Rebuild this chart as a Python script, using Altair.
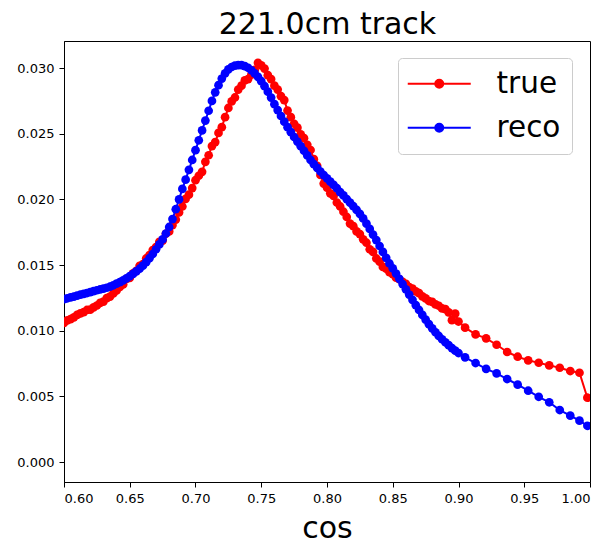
import altair as alt
import pandas as pd

# ---- data ----
x_dense = [
    0.6000, 0.6025, 0.6050, 0.6075, 0.6100, 0.6125, 0.6150, 0.6175, 0.6200, 0.6225,
    0.6250, 0.6275, 0.6300, 0.6325, 0.6350, 0.6375, 0.6400, 0.6425, 0.6450, 0.6475,
    0.6500, 0.6525, 0.6550, 0.6575, 0.6600, 0.6625, 0.6650, 0.6675, 0.6700, 0.6725,
    0.6750, 0.6775, 0.6800, 0.6825, 0.6850, 0.6875, 0.6900, 0.6925, 0.6950, 0.6975,
    0.7000, 0.7025, 0.7050, 0.7075, 0.7100, 0.7125, 0.7150, 0.7175, 0.7200, 0.7225,
    0.7250, 0.7275, 0.7300, 0.7325, 0.7350, 0.7375, 0.7400, 0.7425, 0.7450, 0.7475,
    0.7500, 0.7525, 0.7550, 0.7575, 0.7600, 0.7625, 0.7650, 0.7675, 0.7700, 0.7725,
    0.7750, 0.7775, 0.7800, 0.7825, 0.7850, 0.7875, 0.7900, 0.7925, 0.7950, 0.7975,
    0.8000, 0.8025, 0.8050, 0.8075, 0.8100, 0.8125, 0.8150, 0.8175, 0.8200, 0.8225,
    0.8250, 0.8275, 0.8300, 0.8325, 0.8350, 0.8375, 0.8400, 0.8425, 0.8450, 0.8475,
    0.8500, 0.8525, 0.8550, 0.8575, 0.8600, 0.8625, 0.8650, 0.8675, 0.8700, 0.8725,
    0.8750, 0.8775, 0.8800, 0.8825, 0.8850, 0.8875, 0.8900, 0.8925, 0.8950, 0.8975,
    0.9000,
]
x_sparse = [0.905, 0.913, 0.921, 0.929, 0.937, 0.945, 0.953, 0.961, 0.969, 0.977, 0.985, 0.992, 0.998]

y_true_dense = [
    0.01060, 0.01078, 0.01088, 0.01102, 0.01120, 0.01132, 0.01142, 0.01158, 0.01160, 0.01178,
    0.01192, 0.01212, 0.01222, 0.01248, 0.01260, 0.01284, 0.01306, 0.01334, 0.01352, 0.01394,
    0.01402, 0.01436, 0.01456, 0.01494, 0.01508, 0.01550, 0.01576, 0.01614, 0.01636, 0.01676,
    0.01686, 0.01738, 0.01756, 0.01804, 0.01846, 0.01900, 0.01946, 0.02004, 0.02036, 0.02086,
    0.02146, 0.02180, 0.02210, 0.02286, 0.02336, 0.02406, 0.02436, 0.02506, 0.02550, 0.02626,
    0.02696, 0.02746, 0.02776, 0.02836, 0.02866, 0.02906, 0.02916, 0.02950, 0.02986, 0.03040,
    0.03020, 0.02996, 0.02946, 0.02916, 0.02866, 0.02836, 0.02786, 0.02756, 0.02676, 0.02626,
    0.02576, 0.02546, 0.02496, 0.02466, 0.02416, 0.02376, 0.02306, 0.02256, 0.02186, 0.02120,
    0.02090, 0.02046, 0.02026, 0.01976, 0.01946, 0.01906, 0.01866, 0.01816, 0.01796, 0.01756,
    0.01736, 0.01696, 0.01670, 0.01620, 0.01600, 0.01550, 0.01526, 0.01486, 0.01472, 0.01446,
    0.01430, 0.01404, 0.01392, 0.01372, 0.01356, 0.01332, 0.01320, 0.01300, 0.01286, 0.01262,
    0.01246, 0.01226, 0.01220, 0.01200, 0.01190, 0.01170, 0.01164, 0.01140, 0.01080, 0.01130,
    0.01070,
]
y_true_sparse = [0.01023, 0.00972, 0.00942, 0.00893, 0.00838, 0.00802, 0.00774,
                 0.00756, 0.00736, 0.00718, 0.00693, 0.00680, 0.00490]

y_reco_dense = [
    0.01240, 0.01247, 0.01254, 0.01260, 0.01267, 0.01274, 0.01280, 0.01287, 0.01294, 0.01301,
    0.01308, 0.01314, 0.01320, 0.01327, 0.01335, 0.01346, 0.01358, 0.01370, 0.01383, 0.01398,
    0.01415, 0.01433, 0.01452, 0.01472, 0.01495, 0.01522, 0.01552, 0.01584, 0.01620, 0.01657,
    0.01695, 0.01740, 0.01790, 0.01850, 0.01925, 0.02000, 0.02080, 0.02150, 0.02225, 0.02300,
    0.02375, 0.02450, 0.02525, 0.02600, 0.02675, 0.02750, 0.02815, 0.02870, 0.02920, 0.02960,
    0.02990, 0.03008, 0.03018, 0.03022, 0.03022, 0.03015, 0.03002, 0.02983, 0.02960, 0.02933,
    0.02900, 0.02862, 0.02820, 0.02775, 0.02725, 0.02680, 0.02635, 0.02592, 0.02550, 0.02512,
    0.02475, 0.02440, 0.02405, 0.02370, 0.02335, 0.02300, 0.02268, 0.02240, 0.02212, 0.02185,
    0.02160, 0.02135, 0.02110, 0.02085, 0.02055, 0.02030, 0.02002, 0.01975, 0.01948, 0.01920,
    0.01890, 0.01855, 0.01815, 0.01775, 0.01732, 0.01690, 0.01645, 0.01600, 0.01555, 0.01512,
    0.01475, 0.01435, 0.01395, 0.01355, 0.01315, 0.01275, 0.01235, 0.01195, 0.01158, 0.01120,
    0.01085, 0.01050, 0.01018, 0.00988, 0.00960, 0.00935, 0.00912, 0.00890, 0.00868, 0.00848,
    0.00830,
]
y_reco_sparse = [0.00797, 0.00754, 0.00710, 0.00675, 0.00632, 0.00589, 0.00543,
                 0.00497, 0.00455, 0.00396, 0.00353, 0.00315, 0.00276]

chart_title = "221.0cm track"
x_title = "cos"
series_names = ["true", "reco"]
series_colors = ["#ff0000", "#0000ff"]
x_ticks = [0.60, 0.65, 0.70, 0.75, 0.80, 0.85, 0.90, 0.95, 1.00]
y_ticks = [0.000, 0.005, 0.010, 0.015, 0.020, 0.025, 0.030]

rows = []
for x, y in zip(x_dense + x_sparse, y_true_dense + y_true_sparse):
    rows.append({"cos": x, "val": y, "series": "true", "order": len(rows)})
for x, y in zip(x_dense + x_sparse, y_reco_dense + y_reco_sparse):
    rows.append({"cos": x, "val": y, "series": "reco", "order": len(rows)})
df = pd.DataFrame(rows)

legend_symbol = ("M-3,0H3M-0.38,0A0.38,0.38,0,1,1,0.38,0"
                 "A0.38,0.38,0,1,1,-0.38,0Z")

base = alt.Chart(df)
x_scale = alt.Scale(domain=[0.6, 1.0], nice=False, zero=False)

# bottom axis with ticks and the "cos" title
x_bottom = alt.X("cos:Q", scale=x_scale,
                 axis=alt.Axis(orient="bottom", values=x_ticks, format=".2f",
                               title=x_title, titleFontSize=30,
                               titleFont="DejaVu Sans", titleFontWeight="normal",
                               titlePadding=8))
# top axis carrying only the chart title text
x_top = alt.X("cos:Q", scale=x_scale,
              axis=alt.Axis(orient="top", title=chart_title, labels=False,
                            ticks=False, domain=False, titleFontSize=30,
                            titleFont="DejaVu Sans", titleFontWeight="normal",
                            titleBaseline="alphabetic", titlePadding=8))
y_enc = alt.Y("val:Q",
              scale=alt.Scale(domain=[-0.00152, 0.03206], nice=False, zero=False),
              axis=alt.Axis(values=y_ticks, format=".3f", title=None))
color_enc = alt.Color("series:N",
                      scale=alt.Scale(domain=series_names, range=series_colors),
                      sort=series_names,
                      legend=alt.Legend(title=None, orient="none",
                                        legendX=334, legendY=17,
                                        symbolType=legend_symbol,
                                        symbolSize=441, symbolStrokeWidth=2,
                                        symbolOffset=15.5, labelOffset=42.5,
                                        labelFontSize=29.5, labelFont="DejaVu Sans",
                                        labelColor="black", labelBaseline="middle",
                                        rowPadding=13, padding=11,
                                        strokeColor="#cccccc", cornerRadius=4,
                                        fillColor="rgba(255,255,255,0.8)"))

lines = base.mark_line(strokeWidth=2, clip=True).encode(
    x=x_top, y=y_enc, color=color_enc, order="order:Q")
points = base.mark_point(filled=True, size=76, opacity=1, clip=True).encode(
    x=x_bottom, y=y_enc, color=color_enc, order="order:Q")

chart = alt.layer(lines, points).resolve_axis(x="independent").properties(
    width=526, height=441,
    autosize=alt.AutoSizeParams(type="none"),
    padding={"left": 56, "top": 33, "right": 7, "bottom": 58},
).configure_axis(
    grid=False, domainColor="black", tickColor="black", labelColor="black",
    titleColor="black", labelFont="DejaVu Sans", labelFontSize=13,
    tickSize=5, labelPadding=5, domainWidth=1, tickWidth=1,
).configure_view(stroke="black", strokeWidth=1)

chart.save("out.html", embed_options={"renderer": "svg", "actions": False})
